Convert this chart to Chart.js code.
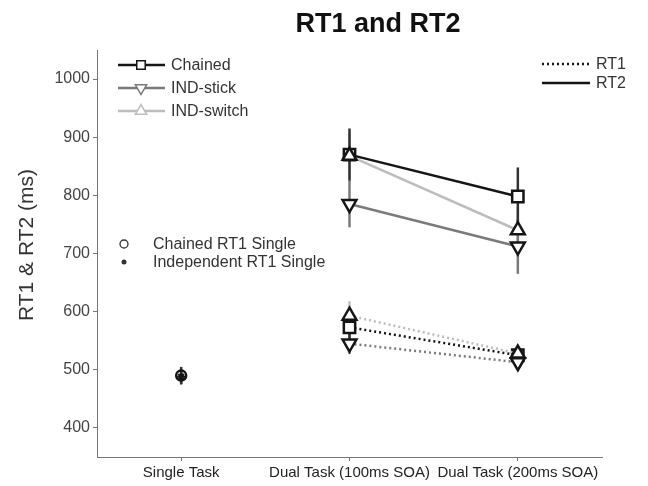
<!DOCTYPE html>
<html>
<head>
<meta charset="utf-8">
<script src="https://cdn.jsdelivr.net/npm/chart.js@4"></script>
<style>
  html, body { margin: 0; padding: 0; background: #fff; }
  #wrap { width: 648px; height: 486px; }
</style>
</head>
<body>
<div id="wrap"><canvas id="rtChart"></canvas></div>
<script>
// categories on the x axis (positions 0, 1, 2)
const categories = ['Single Task', 'Dual Task (100ms SOA)', 'Dual Task (200ms SOA)'];
const yTicks = [400, 500, 600, 700, 800, 900, 1000];

// dual task conditions (x = 1, 2)
const dualX = [1, 2];
const chainedRT2 = [870, 798];
const stickRT2 = [785, 712];
const switchRT2 = [868, 740];
const chainedRT1 = [573, 525];
const stickRT1 = [545, 513];
const switchRT1 = [593, 528];

// error bar half-widths
const chainedRT2Err = [45, 50];
const stickRT2Err = [40, 47];
const switchRT2Err = [40, 40];
const chainedRT1Err = [20, 12];
const stickRT1Err = [18, 10];
const switchRT1Err = [25, 15];

// single task RT1
const chainedSingle = [490];
const indepSingle = [488];
const chainedSingleErr = [15];
const indepSingleErr = [13];

const black = '#151515';
const darkGrey = '#7a7a7a';
const lightGrey = '#bdbdbd';
const FONT = '"Liberation Sans", Arial, sans-serif';

function pts(xs, ys) {
    return ys.map(function(v, i) { return { x: xs[i], y: v }; });
}

function lineSet(label, ys, errs, color, style, dotted) {
    return {
        label: label,
        data: pts(dualX, ys),
        errors: errs,
        borderColor: color,
        borderWidth: 2.5,
        borderDash: dotted ? [2, 3] : [],
        pointStyle: style === 'down' ? 'triangle' : style,
        rotation: style === 'down' ? 180 : 0,
        pointRadius: 8,
        pointBorderWidth: 2.5,
        pointBorderColor: black,
        pointBackgroundColor: '#fff',
        showLine: true,
        fill: false
    };
}

const datasets = [
    lineSet('IND-switch RT1', switchRT1, switchRT1Err, lightGrey, 'triangle', true),
    lineSet('IND-stick RT1', stickRT1, stickRT1Err, darkGrey, 'down', true),
    lineSet('Chained RT1', chainedRT1, chainedRT1Err, black, 'rect', true),
    lineSet('IND-switch RT2', switchRT2, switchRT2Err, lightGrey, 'triangle', false),
    lineSet('IND-stick RT2', stickRT2, stickRT2Err, darkGrey, 'down', false),
    lineSet('Chained RT2', chainedRT2, chainedRT2Err, black, 'rect', false),
    {
        label: 'Chained RT1 Single',
        data: pts([0], chainedSingle),
        errors: chainedSingleErr,
        borderColor: black,
        pointStyle: 'circle',
        pointRadius: 5,
        pointBorderWidth: 2.5,
        pointBorderColor: black,
        pointBackgroundColor: 'rgba(255,255,255,0)',
        showLine: false
    },
    {
        label: 'Independent RT1 Single',
        data: pts([0], indepSingle),
        errors: indepSingleErr,
        borderColor: black,
        pointStyle: 'star',
        pointRadius: 4,
        pointBorderWidth: 2,
        pointBorderColor: black,
        pointBackgroundColor: black,
        showLine: false
    }
];

// error bars drawn under the markers
const errorBars = {
    id: 'errorBars',
    beforeDatasetsDraw: function(chart) {
        const ctx = chart.ctx;
        const xs = chart.scales.x, ys = chart.scales.y;
        ctx.save();
        chart.data.datasets.forEach(function(ds) {
            ctx.strokeStyle = ds.borderColor === black ? '#333' : ds.borderColor;
            ctx.lineWidth = 2.5;
            ds.data.forEach(function(p, i) {
                const e = ds.errors[i];
                const px = xs.getPixelForValue(p.x);
                ctx.beginPath();
                ctx.moveTo(px, ys.getPixelForValue(p.y - e));
                ctx.lineTo(px, ys.getPixelForValue(p.y + e));
                ctx.stroke();
            });
        });
        ctx.restore();
    }
};

// title, y axis title and the three in-plot legends
const decorations = {
    id: 'decorations',
    afterDraw: function(chart) {
        const ctx = chart.ctx;
        ctx.save();
        ctx.fillStyle = '#111';
        ctx.font = 'bold 27px ' + FONT;
        ctx.textAlign = 'center';
        ctx.textBaseline = 'middle';
        ctx.fillText('RT1 and RT2', 378, 25);

        ctx.save();
        ctx.translate(27, 245);
        ctx.rotate(-Math.PI / 2);
        ctx.fillStyle = '#333';
        ctx.font = '21px ' + FONT;
        ctx.fillText('RT1 & RT2 (ms)', 0, 0);
        ctx.restore();

        ctx.textAlign = 'left';
        ctx.font = '16px ' + FONT;
        const rows = [
            ['Chained', black, 'rect', 0, 65],
            ['IND-stick', darkGrey, 'triangle', 180, 88],
            ['IND-switch', lightGrey, 'triangle', 0, 111]
        ];
        rows.forEach(function(r) {
            ctx.strokeStyle = r[1];
            ctx.lineWidth = 2.5;
            ctx.setLineDash([]);
            ctx.beginPath();
            ctx.moveTo(118, r[4]);
            ctx.lineTo(165, r[4]);
            ctx.stroke();
            ctx.lineWidth = 1.5;
            ctx.fillStyle = '#fff';
            Chart.helpers.drawPoint(ctx, {
                pointStyle: r[2],
                radius: r[2] === 'rect' ? 6 : 6.5,
                rotation: r[3],
                borderWidth: 1.5
            }, 141, r[4]);
            ctx.fillStyle = '#333';
            ctx.fillText(r[0], 171, r[4] + 1);
        });

        // RT1 / RT2 line style legend
        ctx.strokeStyle = black;
        ctx.lineWidth = 2.5;
        ctx.setLineDash([2, 3]);
        ctx.beginPath();
        ctx.moveTo(542, 64);
        ctx.lineTo(590, 64);
        ctx.stroke();
        ctx.setLineDash([]);
        ctx.beginPath();
        ctx.moveTo(542, 83);
        ctx.lineTo(590, 83);
        ctx.stroke();
        ctx.fillText('RT1', 596, 65);
        ctx.fillText('RT2', 596, 84);

        // single task legend
        ctx.strokeStyle = '#333';
        ctx.lineWidth = 1.3;
        ctx.beginPath();
        ctx.arc(124, 244, 4, 0, Math.PI * 2);
        ctx.stroke();
        ctx.fillStyle = '#333';
        ctx.beginPath();
        ctx.arc(124, 262, 2.5, 0, Math.PI * 2);
        ctx.fill();
        ctx.fillText('Chained RT1 Single', 153, 245);
        ctx.fillText('Independent RT1 Single', 153, 263);
        ctx.restore();
    }
};

new Chart(document.getElementById('rtChart').getContext('2d'), {
    type: 'scatter',
    data: { datasets: datasets },
    plugins: [errorBars, decorations],
    options: {
        responsive: true,
        maintainAspectRatio: false,
        animation: false,
        layout: { padding: { top: 50, right: 46, left: 0, bottom: 0 } },
        plugins: {
            legend: { display: false },
            title: { display: false },
            tooltip: { enabled: false }
        },
        scales: {
            x: {
                type: 'linear',
                min: -0.5,
                max: 2.5,
                afterBuildTicks: function(scale) {
                    scale.ticks = categories.map(function(c, i) { return { value: i }; });
                },
                afterFit: function(scale) { scale.height = 29; },
                ticks: {
                    autoSkip: false,
                    maxRotation: 0,
                    padding: 3,
                    color: '#222',
                    font: { family: FONT, size: 15 },
                    callback: function(value) { return categories[value]; }
                },
                grid: { drawOnChartArea: false, tickLength: 4, color: '#777' },
                border: { color: '#777', width: 1 }
            },
            y: {
                min: 350,
                max: 1050,
                afterBuildTicks: function(scale) {
                    scale.ticks = yTicks.map(function(v) { return { value: v }; });
                },
                afterFit: function(scale) { scale.width = 97; },
                ticks: {
                    padding: 3,
                    color: '#444',
                    font: { family: FONT, size: 16 },
                    callback: function(value) { return String(value); }
                },
                grid: { drawOnChartArea: false, tickLength: 4, color: '#777' },
                border: { color: '#777', width: 1 }
            }
        }
    }
});
</script>
</body>
</html>
